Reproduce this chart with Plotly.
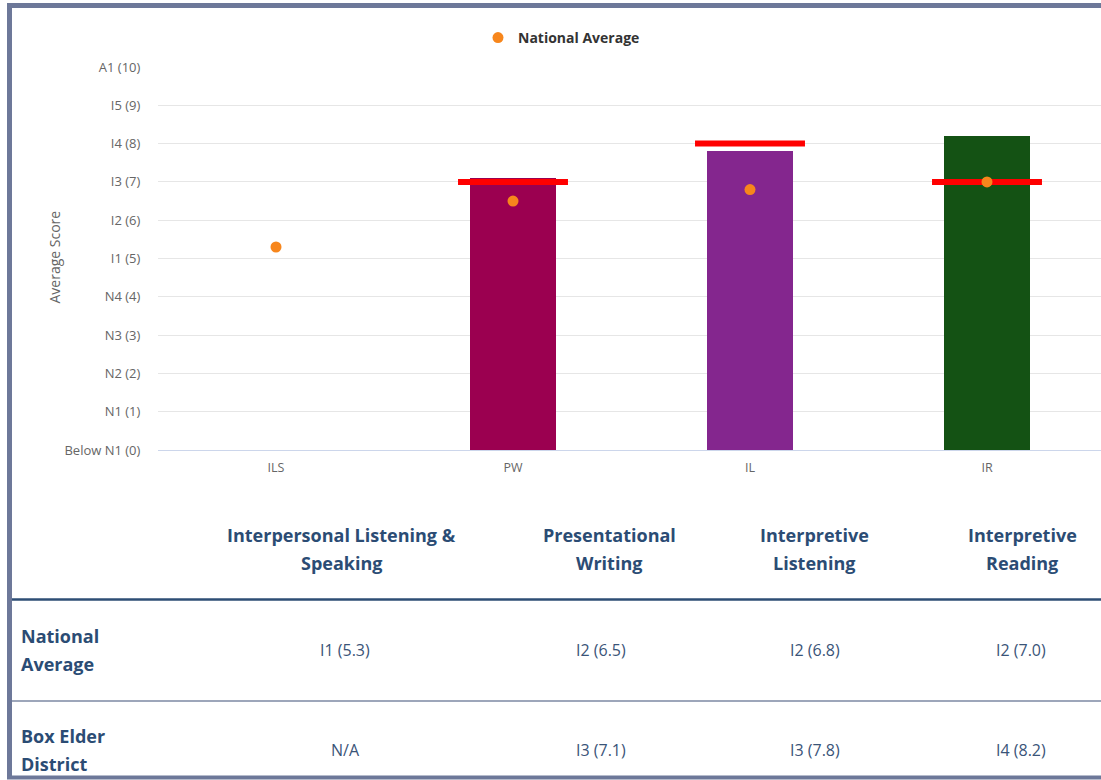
import plotly.graph_objects as go

# ---- data -------------------------------------------------------------
codes = ["ILS", "PW", "IL", "IR"]
skill_names = [
    ["Interpersonal Listening &", "Speaking"],
    ["Presentational", "Writing"],
    ["Interpretive", "Listening"],
    ["Interpretive", "Reading"],
]
district_scores = [None, 7.1, 7.8, 8.2]          # Box Elder District
national_avg = [5.3, 6.5, 6.8, 7.0]
target_scores = [None, 7.0, 8.0, 7.0]            # red target markers
bar_colors = ["#9b0050", "#9b0050", "#84268e", "#145214"]

y_tick_vals = list(range(11))
y_tick_text = ["Below N1 (0)", "N1 (1)", "N2 (2)", "N3 (3)", "N4 (4)", "I1 (5)",
               "I2 (6)", "I3 (7)", "I4 (8)", "I5 (9)", "A1 (10)"]

row_labels = [["National", "Average"], ["Box Elder", "District"]]
row_values = [
    ["I1 (5.3)", "I2 (6.5)", "I2 (6.8)", "I2 (7.0)"],
    ["N/A", "I3 (7.1)", "I3 (7.8)", "I4 (8.2)"],
]

# ---- layout geometry (pixels) ----------------------------------------
W, H = 1101, 780
PL, PR, PT, PB = 158, 1101, 67, 450
CAT0, STEP = 276, 237


def px(x):
    return (x - PL) / (PR - PL)


def py(y):
    return (PB - y) / (PB - PT)


xs = list(range(len(codes)))
axis_font = "Open Sans, sans-serif"

fig = go.Figure()

fig.add_trace(go.Bar(
    x=xs, y=district_scores, width=0.363,
    marker=dict(color=bar_colors, line=dict(width=0)),
    showlegend=False, hoverinfo="y",
))

# target lines, one short horizontal segment per category
half = 0.232
tx, ty = [], []
for i, t in enumerate(target_scores):
    if t is None:
        continue
    tx += [i - half, i + half, None]
    ty += [t, t, None]
fig.add_trace(go.Scatter(
    x=tx, y=ty, mode="lines", line=dict(color="#ff0000", width=6),
    showlegend=False, hoverinfo="skip",
))

fig.add_trace(go.Scatter(
    x=xs, y=national_avg, mode="markers", name="National Average",
    marker=dict(color="#f7861c", size=11),
))

fig.update_layout(
    width=W, height=H,
    margin=dict(l=PL, r=W - PR, t=PT, b=H - PB),
    paper_bgcolor="white", plot_bgcolor="white",
    font=dict(family=axis_font, color="#666666"),
    bargap=0,
    legend=dict(
        orientation="h", x=px(478), xanchor="left", y=py(38), yanchor="middle",
        font=dict(size=14, color="#333333", family=axis_font, weight="bold"),
        itemwidth=30, bgcolor="rgba(0,0,0,0)",
    ),
    xaxis=dict(
        range=[(PL - CAT0) / STEP, (PR - CAT0) / STEP],
        tickvals=xs, ticktext=codes,
        showgrid=False, zeroline=False,
        showline=True, linecolor="#ccd6eb", linewidth=1,
        ticks="outside", ticklen=6, tickcolor="rgba(0,0,0,0)",
        tickfont=dict(size=12.5, color="#666666", family=axis_font),
        fixedrange=True,
    ),
    yaxis=dict(
        range=[0, 10], tickvals=y_tick_vals, ticktext=y_tick_text,
        showgrid=True, gridcolor="#e6e6e6", gridwidth=1, zeroline=False,
        ticks="outside", ticklen=14, tickcolor="rgba(0,0,0,0)",
        tickfont=dict(size=13, color="#666666", family=axis_font),
        fixedrange=True,
    ),
)

annotations = [dict(
    text="Average Score", x=px(42), y=py(257), xref="paper", yref="paper",
    textangle=-90, showarrow=False, font=dict(size=14, color="#666666", family=axis_font),
)]

header_x = [341, 609, 814, 1022]
header_y = [535, 563]
val_x = [345, 601, 815, 1021]
head_font = dict(size=18, color="#2b4c74", family="Open Sans, sans-serif", weight="bold")
val_font = dict(size=16, color="#3a5478", family="Open Sans, sans-serif")

for cx, lines in zip(header_x, skill_names):
    for ly, line in zip(header_y, lines):
        annotations.append(dict(text=line, x=px(cx), y=py(ly), xref="paper", yref="paper",
                                showarrow=False, xanchor="center", yanchor="middle", font=head_font))

row_y = [650, 750]
for ry, lab, vals in zip(row_y, row_labels, row_values):
    for k, line in enumerate(lab):
        annotations.append(dict(text=line, x=px(19), y=py(ry - 14 + 28 * k), xref="paper", yref="paper",
                                showarrow=False, xanchor="left", yanchor="middle", font=head_font))
    for cx, v in zip(val_x, vals):
        annotations.append(dict(text=v, x=px(cx), y=py(ry), xref="paper", yref="paper",
                                showarrow=False, xanchor="center", yanchor="middle", font=val_font))

fig.update_layout(annotations=annotations)

frame = "#6d7899"
shapes = [
    dict(type="line", xref="paper", yref="paper", x0=px(12), x1=px(W), y0=py(599.5), y1=py(599.5),
         line=dict(color="#2e4e75", width=2.5)),
    dict(type="line", xref="paper", yref="paper", x0=px(12), x1=px(W), y0=py(701), y1=py(701),
         line=dict(color="#7d89a3", width=1.5)),
    # outer frame
    dict(type="line", xref="paper", yref="paper", x0=px(9.5), x1=px(9.5), y0=py(3), y1=py(779),
         line=dict(color=frame, width=5)),
    dict(type="line", xref="paper", yref="paper", x0=px(7), x1=px(W + 5), y0=py(5.5), y1=py(5.5),
         line=dict(color=frame, width=5)),
    dict(type="line", xref="paper", yref="paper", x0=px(7), x1=px(W + 5), y0=py(777.5), y1=py(777.5),
         line=dict(color=frame, width=4)),
]
fig.update_layout(shapes=shapes)

fig.write_html("out.html")
